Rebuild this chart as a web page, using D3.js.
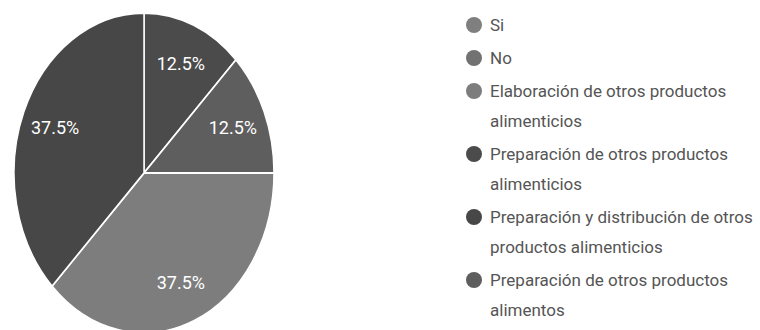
<!DOCTYPE html>
<html>
<head>
<meta charset="utf-8">
<script src="https://cdn.jsdelivr.net/npm/d3@7"></script>
<style>
  body { margin: 0; background: #fff; }
  svg { display: block; font-family: Roboto, Arial, sans-serif; }
</style>
</head>
<body>
<div id="chart"></div>
<script>
const categories = [
    "Si",
    "No",
    "Elaboración de otros productos alimenticios",
    "Preparación de otros productos alimenticios",
    "Preparación y distribución de otros productos alimenticios",
    "Preparación de otros productos alimentos"
];
const values = [0, 0, 3, 1, 3, 1];
const colors = ["#7f7f7f", "#727272", "#7d7d7d", "#4b4b4b", "#474747", "#5e5e5e"];
// order the slices are drawn, clockwise from 12 o'clock
const sliceOrder = [3, 5, 2, 4];

const width = 760, height = 330;

const svg = d3.select("#chart")
    .append("svg")
    .attr("width", width)
    .attr("height", height);

// Pie (squashed into an ellipse, like the picture)
const rx = 130, ry = 160;
const cx = 144, cy = 173;

const pieG = svg.append("g")
    .attr("transform", `translate(${cx}, ${cy}) scale(1, ${ry / rx})`);

const total = d3.sum(values);
const pie = d3.pie()
    .sort((a, b) => sliceOrder.indexOf(a) - sliceOrder.indexOf(b))
    .value(i => values[i]);
const arc = d3.arc().innerRadius(0).outerRadius(rx);
const labelArc = d3.arc().innerRadius(rx * 0.74).outerRadius(rx * 0.74);

const slices = pie(sliceOrder);

pieG.selectAll("path")
    .data(slices)
    .enter()
    .append("path")
    .attr("d", arc)
    .attr("fill", d => colors[d.data])
    .attr("stroke", "#fff")
    .attr("stroke-width", 1.5);

svg.append("g")
    .attr("transform", `translate(${cx}, ${cy})`)
    .selectAll("text")
    .data(slices)
    .enter()
    .append("text")
    .attr("x", d => labelArc.centroid(d)[0])
    .attr("y", d => labelArc.centroid(d)[1] * ry / rx)
    .attr("text-anchor", "middle")
    .attr("dy", "0.35em")
    .attr("fill", "#fff")
    .attr("font-size", 18)
    .text(d => (values[d.data] / total * 100).toFixed(1) + "%");

// Legend
const dotX = 474, textX = 490, legendTop = 25;
const lineH = 30, itemGap = 33;
const maxW = 268;

let y = legendTop;
categories.forEach((c, i) => {
    const item = svg.append("g");
    item.append("circle")
        .attr("cx", dotX)
        .attr("cy", y)
        .attr("r", 8)
        .attr("fill", colors[i]);

    const text = item.append("text")
        .attr("y", y)
        .attr("fill", "#555")
        .attr("font-size", 17);

    // wrap words onto lines
    const words = c.split(" ");
    let line = [];
    let lines = 0;
    let tspan = text.append("tspan").attr("x", textX).attr("dy", "0.35em");
    words.forEach(w => {
        line.push(w);
        tspan.text(line.join(" "));
        if (tspan.node().getComputedTextLength() > maxW && line.length > 1) {
            line.pop();
            tspan.text(line.join(" "));
            line = [w];
            lines++;
            tspan = text.append("tspan").attr("x", textX).attr("dy", lineH).text(w);
        }
    });
    y += itemGap + lines * lineH;
});
</script>
</body>
</html>
